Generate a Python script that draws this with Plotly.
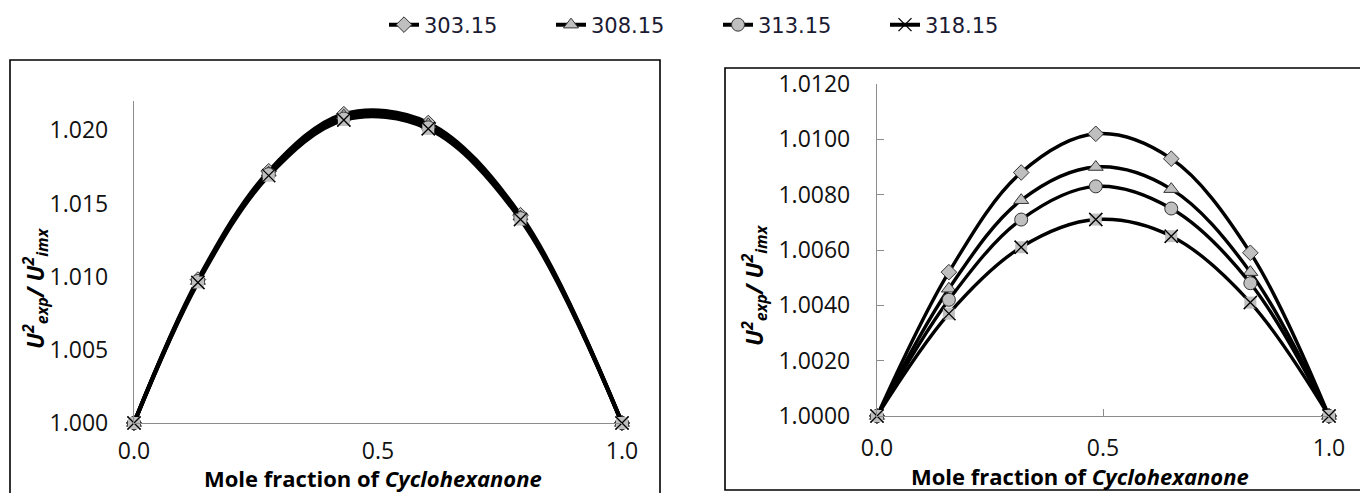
import plotly.graph_objects as go

series_names = ["303.15", "308.15", "313.15", "318.15"]

# Left panel
left_x = [0.0, 0.131, 0.276, 0.430, 0.603, 0.792, 1.0]
left_y = {
    "303.15": [1.0000, 1.0098, 1.0172, 1.0211, 1.0205, 1.0142, 1.0000],
    "308.15": [1.0000, 1.0097, 1.0171, 1.0210, 1.0204, 1.0141, 1.0000],
    "313.15": [1.0000, 1.0097, 1.0170, 1.0208, 1.0202, 1.0140, 1.0000],
    "318.15": [1.0000, 1.0096, 1.0169, 1.0207, 1.0201, 1.0139, 1.0000],
}

# Right panel
right_x = [0.0, 0.159, 0.319, 0.484, 0.651, 0.826, 1.0]
right_y = {
    "303.15": [1.0000, 1.0052, 1.0088, 1.0102, 1.0093, 1.0059, 1.0000],
    "308.15": [1.0000, 1.0046, 1.0078, 1.0090, 1.0082, 1.0052, 1.0000],
    "313.15": [1.0000, 1.0042, 1.0071, 1.0083, 1.0075, 1.0048, 1.0000],
    "318.15": [1.0000, 1.0037, 1.0061, 1.0071, 1.0065, 1.0041, 1.0000],
}

x_ticks = [0.0, 0.5, 1.0]
left_y_ticks = [1.000, 1.005, 1.010, 1.015, 1.020]
right_y_ticks = [1.0000, 1.0020, 1.0040, 1.0060, 1.0080, 1.0100, 1.0120]

symbols = {"303.15": "diamond", "308.15": "triangle-up", "313.15": "circle", "318.15": "x-thin"}
sizes = {"303.15": 12, "308.15": 13, "313.15": 13, "318.15": 13}

W, H = 1360, 493
GREY = "#bfbfbf"
AX = "#8c8c8c"
TICKFONT = dict(family="Open Sans", size=23, color="#111111")

fig = go.Figure()


def add_series(xs, ys, name, xa, ya, lw, show):
    sym = symbols[name]
    if sym == "x-thin":
        fig.add_trace(go.Scatter(
            x=xs, y=ys, mode="lines+markers", name=name, legendgroup=name,
            showlegend=show, xaxis=xa, yaxis=ya, cliponaxis=False,
            line=dict(color="black", width=lw, shape="spline", smoothing=1.0),
            marker=dict(symbol="x-thin", size=sizes[name], color="black",
                        line=dict(color="black", width=1.3)),
        ))
        fig.add_trace(go.Scatter(
            x=xs, y=ys, mode="markers", legendgroup=name, showlegend=False,
            xaxis=xa, yaxis=ya, cliponaxis=False,
            marker=dict(symbol="square", size=sizes[name] - 1, color=GREY,
                        line=dict(width=0)),
        ))
        fig.add_trace(go.Scatter(
            x=xs, y=ys, mode="markers", legendgroup=name, showlegend=False,
            xaxis=xa, yaxis=ya, cliponaxis=False,
            marker=dict(symbol="x-thin", size=sizes[name], color="black",
                        line=dict(color="black", width=1.3)),
        ))
    else:
        fig.add_trace(go.Scatter(
            x=xs, y=ys, mode="lines+markers", name=name, legendgroup=name,
            showlegend=show, xaxis=xa, yaxis=ya, cliponaxis=False,
            line=dict(color="black", width=lw, shape="spline", smoothing=1.0),
            marker=dict(symbol=sym, size=sizes[name], color=GREY,
                        line=dict(color="#333333", width=1)),
        ))


for n in series_names:
    add_series(left_x, left_y[n], n, "x", "y", 4, True)
for n in series_names:
    add_series(right_x, right_y[n], n, "x2", "y2", 3.4, False)


def px(v):
    return v / W


def py(v):
    return 1 - v / H


fig.update_layout(
    width=W, height=H,
    margin=dict(l=0, r=0, t=0, b=0, pad=0, autoexpand=False),
    paper_bgcolor="white", plot_bgcolor="rgba(0,0,0,0)",
    showlegend=True,
    legend=dict(
        orientation="h", x=px(384), xanchor="left", y=py(25), yanchor="middle",
        font=dict(family="DejaVu Sans", size=21, color="#1a1a33"),
        bgcolor="rgba(0,0,0,0)", itemwidth=30,
        entrywidth=122, entrywidthmode="pixels",
    ),
    xaxis=dict(
        domain=[px(134), px(622)], range=[0, 1], anchor="y", automargin=False,
        tickvals=x_ticks, tickformat=".1f", showgrid=False, zeroline=False,
        showline=True, linecolor=AX, linewidth=1.3, ticks="",
        tickfont=TICKFONT, ticklabelstandoff=7,
    ),
    yaxis=dict(
        domain=[py(423), py(101)], range=[1.000, 1.022], anchor="x", automargin=False,
        tickvals=left_y_ticks, tickformat=".3f", showgrid=False, zeroline=False,
        showline=True, linecolor=AX, linewidth=1.3, ticks="",
        tickfont=TICKFONT, ticklabelstandoff=20,
    ),
    xaxis2=dict(
        domain=[px(877), px(1329)], range=[0, 1], anchor="y2", automargin=False,
        tickvals=x_ticks, tickformat=".1f", showgrid=False, zeroline=False,
        showline=True, linecolor=AX, linewidth=1.3, ticks="inside",
        ticklen=7, tickcolor=AX, tickwidth=1.3,
        tickfont=TICKFONT, ticklabelstandoff=11,
    ),
    yaxis2=dict(
        domain=[py(416), py(84)], range=[1.0000, 1.0120], anchor="x2", automargin=False,
        tickvals=right_y_ticks, tickformat=".4f", showgrid=False, zeroline=False,
        showline=True, linecolor=AX, linewidth=1.3, ticks="inside",
        ticklen=7, tickcolor=AX, tickwidth=1.3,
        tickfont=TICKFONT, ticklabelstandoff=21,
    ),
    shapes=[
        dict(type="rect", xref="paper", yref="paper",
             x0=px(10), x1=px(660), y0=py(520), y1=py(60),
             line=dict(color="black", width=1.6), fillcolor="rgba(0,0,0,0)"),
        dict(type="rect", xref="paper", yref="paper",
             x0=px(725), x1=px(1380), y0=py(490), y1=py(68),
             line=dict(color="black", width=1.6), fillcolor="rgba(0,0,0,0)"),
    ],
)

XT = "<b>Mole fraction of <i>Cyclohexanone</i></b>"
YT = "<b><i>U<sup>2</sup><sub>exp</sub>/ U<sup>2</sup><sub>imx</sub></i></b>"
TFONT = dict(family="Open Sans", size=22, color="black")
YFONT = dict(family="Open Sans", size=23, color="black")
fig.add_annotation(text=XT, xref="paper", yref="paper", x=px(373), y=py(478),
                   showarrow=False, font=TFONT, xanchor="center", yanchor="middle")
fig.add_annotation(text=XT, xref="paper", yref="paper", x=px(1080), y=py(476),
                   showarrow=False, font=TFONT, xanchor="center", yanchor="middle")
fig.add_annotation(text=YT, xref="paper", yref="paper", x=px(35), y=py(288),
                   showarrow=False, font=YFONT, textangle=-90,
                   xanchor="center", yanchor="middle")
fig.add_annotation(text=YT, xref="paper", yref="paper", x=px(754), y=py(285),
                   showarrow=False, font=YFONT, textangle=-90,
                   xanchor="center", yanchor="middle")

post = (
    "document.body.style.margin='0';"
    "document.body.style.overflow='hidden';"
    "document.documentElement.style.overflow='hidden';"
)
fig.write_html("out.html", post_script=post, config={"displayModeBar": False})
